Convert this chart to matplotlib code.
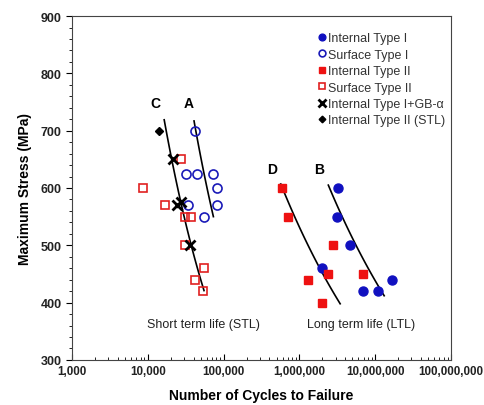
import matplotlib.pyplot as plt
import numpy as np
from matplotlib.ticker import FuncFormatter, MultipleLocator

plt.rcParams['font.family'] = ['Liberation Sans', 'DejaVu Sans']

# data (cycles, stress in MPa)
int1_N = [3260000, 3160000, 4660000, 1970000, 16500000, 6970000, 10700000]
int1_S = [600, 550, 500, 460, 440, 420, 420]

surf1_N = [42000, 31900, 44100, 73100, 82600, 34300, 82600, 55000]
surf1_S = [700, 625, 625, 625, 600, 570, 570, 550]

int2_N = [583000, 713000, 2740000, 2360000, 1310000, 6970000, 1990000]
int2_S = [600, 550, 500, 450, 440, 450, 400]

surf2_N = [27200, 8570, 16900, 31000, 36800, 31000, 55000, 42000, 54000]
surf2_S = [650, 600, 570, 550, 550, 500, 460, 440, 420]

gb_N = [21700, 27200, 24000, 36000]
gb_S = [650, 575, 570, 500]

stl_N = [14060]
stl_S = [700]

# trend lines (power law between end points)
trend_names = ['C', 'A', 'D', 'B']
trend_N0 = [16400, 40600, 566000, 2400000]
trend_N1 = [55000, 73100, 3440000, 13100000]
trend_S0 = [719, 717, 607, 605]
trend_S1 = [421, 550, 398, 412]
label_N = [12400, 34300, 431000, 1830000]
label_S = [748, 748, 633, 633]

fig = plt.figure(figsize=(4.84, 4.06), dpi=100)
ax = fig.add_axes([0.149, 0.111, 0.783, 0.847])

for n0, n1, s0, s1 in zip(trend_N0, trend_N1, trend_S0, trend_S1):
    b = np.log(s1 / s0) / np.log(n1 / n0)
    nn = np.logspace(np.log10(n0), np.log10(n1), 50)
    ax.plot(nn, s0 * (nn / n0) ** b, color='black', lw=1.2, zorder=2)

ax.plot(int1_N, int1_S, 'o', color='#1010c0', ms=6.5, ls='none', label='Internal Type I', zorder=3)
ax.plot(surf1_N, surf1_S, 'o', mfc='none', mec='#1a1ab8', mew=1.2, ms=6.5, ls='none', label='Surface Type I', zorder=3)
ax.plot(int2_N, int2_S, 's', color='#ee1111', ms=6.3, ls='none', label='Internal Type II', zorder=3)
ax.plot(surf2_N, surf2_S, 's', mfc='none', mec='#e02020', mew=1.2, ms=6.3, ls='none', label='Surface Type II', zorder=3)
ax.plot(gb_N, gb_S, 'x', color='black', mew=2, ms=7, ls='none', label='Internal Type I+GB-\u03b1', zorder=4)
ax.plot(stl_N, stl_S, 'D', color='black', ms=4.5, ls='none', label='Internal Type II (STL)', zorder=3)

for name, n, s in zip(trend_names, label_N, label_S):
    ax.text(n, s, name, fontsize=10, fontweight='bold', ha='center', va='center')

ax.text(54600, 363, 'Short term life (STL)', fontsize=9, ha='center', va='center', color='#222222')
ax.text(6500000, 363, 'Long term life (LTL)', fontsize=9, ha='center', va='center', color='#222222')

ax.set_xscale('log')
ax.set_xlim(1000, 1e8)
ax.set_ylim(300, 900)
ax.yaxis.set_major_locator(MultipleLocator(100))
ax.yaxis.set_minor_locator(MultipleLocator(20))
ax.xaxis.set_major_formatter(FuncFormatter(lambda v, p: f'{int(round(v)):,}'))
ax.tick_params(axis='x', which='both', direction='in')
ax.tick_params(axis='y', which='both', direction='out')
ax.tick_params(which='major', length=4)
ax.tick_params(which='minor', length=2.5)
for lab in ax.get_yticklabels():
    lab.set_fontweight('bold')
    lab.set_fontsize(9)
    lab.set_color('#222222')
for lab in ax.get_xticklabels():
    lab.set_fontweight('bold')
    lab.set_fontsize(8.4)
    lab.set_color('#222222')
for sp in ax.spines.values():
    sp.set_color('#444444')

ax.set_xlabel('Number of Cycles to Failure', fontsize=10, fontweight='bold', labelpad=8)
ax.set_ylabel('Maximum Stress (MPa)', fontsize=10, fontweight='bold', labelpad=6)

leg = ax.legend(loc='upper left', bbox_to_anchor=(0.62, 0.985), frameon=False, fontsize=9,
                markerscale=0.75, handlelength=0.6, handletextpad=0.2, labelspacing=0.35)
for t in leg.get_texts():
    t.set_color('#333333')

fig.savefig('out.png', dpi=100)
